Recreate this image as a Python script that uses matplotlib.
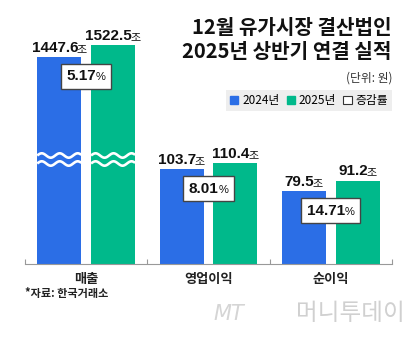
import numpy as np
import matplotlib
matplotlib.use("Agg")
from matplotlib import pyplot as plt
from matplotlib.offsetbox import TextArea, HPacker, AnnotationBbox
from matplotlib.patches import Patch
import matplotlib.transforms as mtrans

plt.rcParams['font.family'] = ['Noto Sans CJK KR', 'DejaVu Sans']

categories = ['매출', '영업이익', '순이익']
val_2024 = [1447.6, 103.7, 79.5]
val_2025 = [1522.5, 110.4, 91.2]
growth = ['5.17', '8.01', '14.71']
series_names = ['2024년', '2025년', '증감률']

BLUE = '#2b6ee6'
GREEN = '#00b98b'
NUM_FONT = ['Liberation Sans', 'Noto Sans CJK KR']

# broken axis: linear up to 112, then squeezed
knots_v = [0, 112, 1400, 1800]
knots_d = [0, 112, 218, 288]


def fwd(v):
    return np.interp(v, knots_v, knots_d)


def inv(d):
    return np.interp(d, knots_d, knots_v)


fig = plt.figure(figsize=(4.2, 3.43), dpi=100)
ax = fig.add_axes([25 / 420, 79 / 343, 367 / 420, 244 / 343])
ax.set_yscale('function', functions=(fwd, inv))

x = np.arange(len(categories)) + 0.5
w = 0.36
off = 0.22
b1 = ax.bar(x - off, val_2024, w, color=BLUE, zorder=2)
b2 = ax.bar(x + off, val_2025, w, color=GREEN, zorder=2)
ax.set_xlim(0, 3)
ax.set_ylim(0, inv(266.7))

# wavy break on the first group
trans = mtrans.blended_transform_factory(ax.transData, ax.transAxes)
for xc in [x[0] - off, x[0] + off]:
    xs = np.linspace(xc - w / 2, xc + w / 2, 80)
    for yc in [0.4447, 0.4119]:
        ys = yc + 0.009 * np.sin((xs - (xc - w / 2)) / 0.147 * 2 * np.pi)
        ax.plot(xs, ys, color='white', lw=1.9, transform=trans, zorder=3,
                solid_capstyle='butt')

# value labels
for bars, vals in [(b1, val_2024), (b2, val_2025)]:
    for r, v in zip(bars, vals):
        num = TextArea(f'{v:.1f}', textprops=dict(fontsize=11, fontweight='bold',
                                                  family=NUM_FONT, color='#111'))
        unit = TextArea('조', textprops=dict(fontsize=8, color='#111'))
        pack = HPacker(children=[num, unit], align='baseline', pad=0, sep=-1)
        ab = AnnotationBbox(pack, (r.get_x() + r.get_width() / 2, v),
                            xybox=(0, 1.5), boxcoords='offset points',
                            box_alignment=(0.5, 0), frameon=False, zorder=4)
        ax.add_artist(ab)

# growth rate boxes
for xc, v, g in zip(x, val_2024, growth):
    num = TextArea(g, textprops=dict(fontsize=11, fontweight='bold',
                                     family=NUM_FONT, color='#111'))
    pct = TextArea('%', textprops=dict(fontsize=8, family=NUM_FONT, color='#111'))
    pack = HPacker(children=[num, pct], align='baseline', pad=0, sep=0)
    ab = AnnotationBbox(pack, (xc, v), xybox=(0, -14), boxcoords='offset points',
                        box_alignment=(0.5, 0.5), pad=0.4, zorder=5,
                        bboxprops=dict(edgecolor='#444444', facecolor='white', lw=1))
    ax.add_artist(ab)

# axes styling
for s in ['top', 'right', 'left']:
    ax.spines[s].set_visible(False)
ax.spines['bottom'].set_color('#999999')
ax.spines['bottom'].set_linewidth(0.8)
ax.set_yticks([])
ax.set_xticks(x)
ax.set_xticklabels(categories, fontsize=9.5, fontweight='bold', color='#222')
ax.tick_params(axis='x', length=0, pad=6)
ax.set_xticks([0, 1, 2, 3], minor=True)
ax.tick_params(axis='x', which='minor', direction='in', length=3.5,
               color='#999999', width=0.8)

# title and notes
fig.text(391 / 420, 1 - 28 / 343, '12월 유가시장 결산법인', ha='right', va='center',
         fontsize=14.5, fontweight='heavy', color='#111')
fig.text(391 / 420, 1 - 52 / 343, '2025년 상반기 연결 실적', ha='right', va='center',
         fontsize=14.5, fontweight='heavy', color='#111')
fig.text(392 / 420, 1 - 78 / 343, '(단위: 원)', ha='right', va='center',
         fontsize=8.5, color='#333')

handles = [Patch(facecolor=BLUE, edgecolor=BLUE),
           Patch(facecolor=GREEN, edgecolor=GREEN),
           Patch(facecolor='white', edgecolor='#333333', lw=0.8)]
leg = fig.legend(handles, series_names, ncol=3, loc='center right',
                 bbox_to_anchor=(392 / 420, 1 - 100.5 / 343),
                 fontsize=8.5, frameon=True, facecolor='#eeeeee', edgecolor='none',
                 fancybox=False, handlelength=0.7, handleheight=0.7,
                 handletextpad=0.35, columnspacing=0.6, borderpad=0.3,
                 borderaxespad=0)
leg.get_frame().set_alpha(1)

fig.text(25 / 420, 1 - 293 / 343, '*자료: 한국거래소', ha='left', va='center',
         fontsize=8, fontweight='bold', color='#222')

fig.text(213 / 420, 1 - 314 / 343, 'MT', ha='left', va='center', fontsize=15,
         style='italic', color='#d5d5d5', family=['DejaVu Sans'])
fig.text(405 / 420, 1 - 314 / 343, '머니투데이', ha='right', va='center',
         fontsize=17, fontweight='light', color='#d0d0d0')

fig.savefig('out.png', dpi=100)
